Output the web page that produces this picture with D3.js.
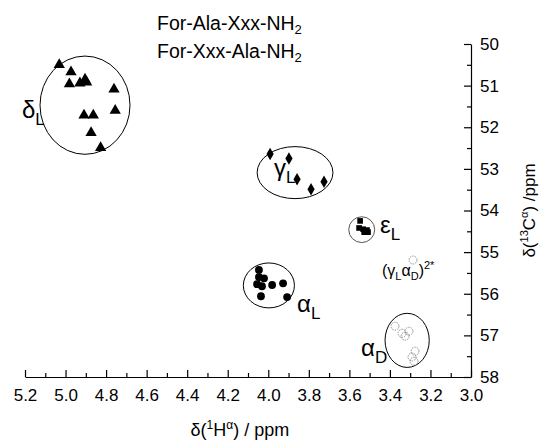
<!DOCTYPE html>
<html>
<head>
<meta charset="utf-8">
<script src="https://cdn.jsdelivr.net/npm/d3@7"></script>
<style>
  html, body { margin: 0; padding: 0; background: #fff; }
  svg { display: block; font-family: 'Liberation Sans', Arial, sans-serif; }
</style>
</head>
<body>
<div id="chart"></div>
<script>
// Chemical shift pairs [dH ppm, dC ppm]
const deltaL = [
  [5.031, 50.50], [4.973, 50.67], [4.981, 50.96], [4.929, 50.94],
  [4.904, 50.85], [4.896, 50.92], [4.761, 51.09], [4.755, 51.60],
  [4.909, 51.71], [4.863, 51.71], [4.874, 52.13], [4.827, 52.49]
];
const gammaL = [[3.991, 52.64], [3.898, 52.75], [3.858, 53.25], [3.789, 53.49], [3.725, 53.31]];
const epsilonL = [[3.547, 54.25], [3.552, 54.42], [3.532, 54.45], [3.513, 54.47], [3.527, 54.52], [3.508, 54.52]];
const alphaL = [
  [4.046, 55.43], [4.046, 55.60], [4.021, 55.63], [4.055, 55.77], [4.031, 55.82],
  [3.981, 55.79], [3.927, 55.75], [4.036, 56.06], [3.907, 56.08]
];
const alphaD = [[3.375, 56.78], [3.340, 56.95], [3.325, 57.02], [3.306, 56.90], [3.276, 57.38], [3.291, 57.52], [3.281, 57.62]];
const gammaAlpha = [[3.286, 55.19]];

// cluster outlines: [cx, cy, rx, ry] in ppm
const clusterEllipses = [
  { c: [4.904, 51.47], r: [0.222, 1.18], dashed: false },
  { c: [3.868, 53.09], r: [0.187, 0.625], dashed: false },
  { c: [3.539, 54.46], r: [0.064, 0.31], dashed: true },
  { c: [3.997, 55.80], r: [0.126, 0.54], dashed: false },
  { c: [3.315, 57.12], r: [0.109, 0.65], dashed: false }
];

// region labels: greek letter, subscript, anchor [dH, dC]
const regionLabels = [
  { main: 'δ', sub: 'L', at: [5.215, 51.78] },
  { main: 'γ', sub: 'L', at: [3.972, 53.17] },
  { main: 'ε', sub: 'L', at: [3.449, 54.54] },
  { main: 'α', sub: 'L', at: [3.858, 56.44] },
  { main: 'α', sub: 'D', at: [3.542, 57.50] }
];

const xMajorTicks = d3.range(0, 12).map((i) => +(5.2 - i * 0.2).toFixed(1));
const xMinorTicks = d3.range(0, 11).map((i) => +(5.1 - i * 0.2).toFixed(1));
const yMajorTicks = d3.range(50, 59);
const yMinorTicks = d3.range(50.5, 58, 1);
const titleLines = ['For-Ala-Xxx-NH', 'For-Xxx-Ala-NH'];

const W = 547, H = 441;
const x = d3.scaleLinear().domain([5.2, 3.0]).range([25, 471]);
const y = d3.scaleLinear().domain([50, 58]).range([44, 377]);

const svg = d3.select('#chart').append('svg').attr('width', W).attr('height', H);

/* X axis, ticks pointing up */
const xAxisG = svg.append('g').attr('transform', `translate(0,${y(58)})`);
xAxisG.call(d3.axisBottom(x).tickValues(xMajorTicks).tickSizeInner(-7).tickSizeOuter(0)
  .tickPadding(12).tickFormat(d3.format('.1f')));
xAxisG.append('g').call(d3.axisBottom(x).tickValues(xMinorTicks).tickSizeInner(-4)
  .tickSizeOuter(0).tickFormat('')).select('.domain').remove();

/* Y axis on the right, ticks pointing left */
const yAxisG = svg.append('g').attr('transform', `translate(${x(3.0)},0)`);
yAxisG.call(d3.axisRight(y).tickValues(yMajorTicks).tickSizeInner(-7).tickSizeOuter(0)
  .tickPadding(9).tickFormat(d3.format('d')));
yAxisG.append('g').call(d3.axisRight(y).tickValues(yMinorTicks).tickSizeInner(-4)
  .tickSizeOuter(0).tickFormat('')).select('.domain').remove();

svg.selectAll('.domain, .tick line').attr('stroke', '#000').attr('stroke-width', 1.2);
svg.selectAll('.tick text').attr('fill', '#000').attr('font-size', 17)
  .attr('font-family', "'Liberation Sans', Arial, sans-serif");

/* Axis titles */
const xt = svg.append('text').attr('x', x(4.14)).attr('y', 436).attr('text-anchor', 'middle')
  .attr('font-size', 18);
xt.append('tspan').text('δ(');
xt.append('tspan').attr('font-size', 12).attr('dy', -7).text('1');
xt.append('tspan').attr('dy', 7).text('H');
xt.append('tspan').attr('font-size', 12).attr('dy', -7).text('α');
xt.append('tspan').attr('dy', 7).text(') / ppm');

const yt = svg.append('text')
  .attr('transform', `translate(535,${y(54)}) rotate(-90)`)
  .attr('text-anchor', 'middle').attr('font-size', 17);
yt.append('tspan').text('δ(');
yt.append('tspan').attr('font-size', 11).attr('dy', -7).text('13');
yt.append('tspan').attr('dy', 7).text('C');
yt.append('tspan').attr('font-size', 11).attr('dy', -7).text('α');
yt.append('tspan').attr('dy', 7).text(') /ppm');

/* Header lines */
titleLines.forEach((t, i) => {
  const tt = svg.append('text').attr('x', 157).attr('y', 30 + i * 28).attr('font-size', 19.5);
  tt.append('tspan').text(t);
  tt.append('tspan').attr('font-size', 13).attr('dy', 4).text('2');
});

/* Cluster ellipses */
svg.append('g').selectAll('ellipse').data(clusterEllipses).join('ellipse')
  .attr('cx', (d) => x(d.c[0]))
  .attr('cy', (d) => y(d.c[1]))
  .attr('rx', (d) => Math.abs(x(d.c[0] + d.r[0]) - x(d.c[0])))
  .attr('ry', (d) => y(d.c[1] + d.r[1]) - y(d.c[1]))
  .attr('fill', 'none')
  .attr('stroke', (d) => (d.dashed ? '#555' : '#000'))
  .attr('stroke-width', 1);

/* Markers */
const drawSymbols = (data, type, size, filled) => {
  svg.append('g').selectAll('path').data(data).join('path')
    .attr('transform', (d) => `translate(${x(d[0])},${y(d[1])})`)
    .attr('d', d3.symbol().type(type).size(size))
    .attr('fill', filled ? '#000' : 'none')
    .attr('stroke', filled ? 'none' : '#777')
    .attr('stroke-width', 0.8)
    .attr('stroke-dasharray', filled ? null : '1.5,1');
};
drawSymbols(deltaL, d3.symbolTriangle, 55, true);
drawSymbols(gammaL, d3.symbolDiamond, 45, true);
drawSymbols(epsilonL, d3.symbolSquare, 32, true);
drawSymbols(alphaL, d3.symbolCircle, 48, true);
drawSymbols(alphaD, d3.symbolCircle, 50, false);
drawSymbols(gammaAlpha, d3.symbolCircle, 50, false);

/* Region labels */
regionLabels.forEach((l) => {
  const t = svg.append('text').attr('x', x(l.at[0])).attr('y', y(l.at[1])).attr('font-size', 24);
  t.append('tspan').text(l.main);
  t.append('tspan').attr('font-size', 17).attr('dy', 7).text(l.sub);
});

const ga = svg.append('text').attr('x', x(3.439)).attr('y', y(55.58)).attr('font-size', 16);
ga.append('tspan').text('(γ');
ga.append('tspan').attr('font-size', 11).attr('dy', 4).text('L');
ga.append('tspan').attr('dy', -4).text('α');
ga.append('tspan').attr('font-size', 11).attr('dy', 4).text('D');
ga.append('tspan').attr('dy', -4).text(')');
ga.append('tspan').attr('font-size', 11).attr('dy', -7).text('2*');
</script>
</body>
</html>
